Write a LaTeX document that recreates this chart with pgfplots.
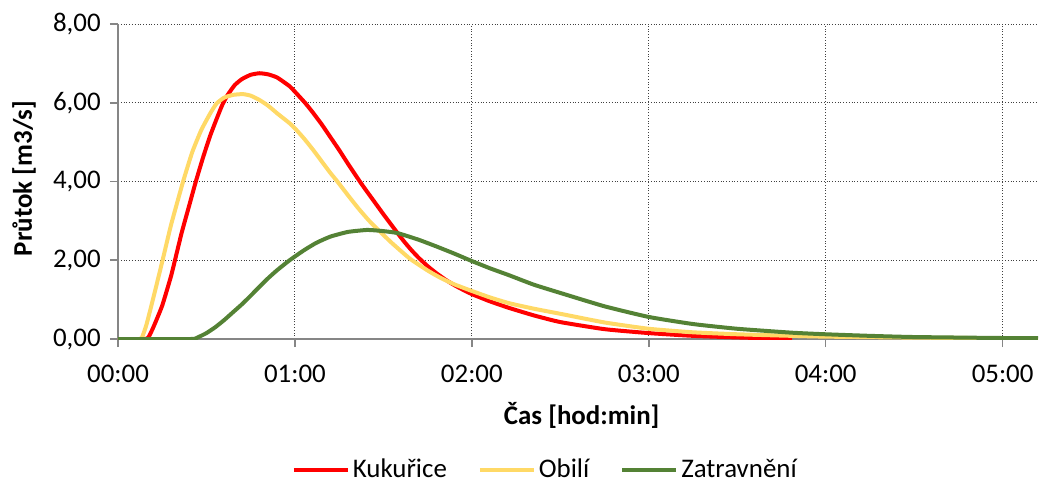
\documentclass[border=0pt]{standalone}
\usepackage{fontspec}
\setmainfont{Carlito}
\usepackage{pgfplots}
\pgfplotsset{compat=1.18}
\definecolor{kuk}{RGB}{255,0,0}
\definecolor{obi}{RGB}{255,217,102}
\definecolor{zat}{RGB}{84,130,53}
\definecolor{axgray}{RGB}{134,134,134}

\begin{document}
\fontsize{13.5}{16}\selectfont
\begin{tikzpicture}
% frame of the whole chart (1 px = 0.5 bp)
\useasboundingbox (-59bp,-72bp) rectangle (461bp,169.5bp);
\begin{axis}[
    at={(0,0)}, anchor=south west,
    scale only axis,
    width=460bp, height=157.5bp,
    xmin=0, xmax=5.2, ymin=0, ymax=8,
    axis x line=bottom, axis y line=left,
    axis line style={-, draw=axgray, line width=0.8bp},
    xtick={0,1,2,3,4,5},
    xticklabels={00:00,01:00,02:00,03:00,04:00,05:00},
    xticklabel style={yshift=-4.5bp},
    ytick={0,2,4,6,8},
    yticklabel style={/pgf/number format/.cd, use comma, fixed, fixed zerofill, precision=2, assume math mode=true},
    tick align=outside,
    major tick length=4bp,
    tick style={draw=axgray, line width=0.8bp},
    grid=major,
    major grid style={densely dotted, draw=black!75, line width=0.5bp},
    xlabel={\textbf{Čas [hod:min]}},
    ylabel={\textbf{Průtok [m3/s]}},
    xlabel style={at={(axis description cs:0.504,-0.244)}, anchor=center},
    ylabel style={at={(axis description cs:-0.102,0.51)}, anchor=center},
    legend columns=3,
    legend style={draw=none, at={(0.465,-0.416)}, anchor=center,
        nodes={inner xsep=1.5bp},
        /tikz/every even column/.append style={column sep=14bp}},
    legend image code/.code={\draw[#1, line width=2bp] (0bp,0bp) -- (27bp,0bp);},
    every axis plot/.append style={line width=2bp, line join=round, smooth, tension=0.3},
]
\addplot[kuk] coordinates {
(0,0) (0.14,0) (0.17,0.03) (0.20,0.3) (0.25,0.85) (0.30,1.6) (0.322,2.0)
(0.36,2.7) (0.40,3.35) (0.44,4.0) (0.48,4.6) (0.52,5.15) (0.56,5.62) (0.59,5.95)
(0.62,6.2) (0.66,6.45) (0.70,6.6) (0.75,6.71) (0.80,6.75) (0.85,6.72) (0.90,6.64)
(0.97,6.42) (1.00,6.28) (1.057,6.0) (1.10,5.76) (1.15,5.46) (1.20,5.13) (1.25,4.8)
(1.30,4.45) (1.367,4.0) (1.40,3.79) (1.45,3.48) (1.50,3.17) (1.58,2.69) (1.62,2.46)
(1.66,2.25) (1.70,2.06) (1.75,1.85) (1.80,1.67) (1.85,1.51) (1.90,1.37) (1.95,1.25)
(2.00,1.14) (2.10,0.96) (2.21,0.79) (2.35,0.6) (2.50,0.43) (2.75,0.25) (3.00,0.15)
(3.25,0.08) (3.50,0.04) (3.81,0.0)
};
\addlegendentry{Kukuřice}
\addplot[obi] coordinates {
(0,0) (0.12,0) (0.134,0.02) (0.16,0.35) (0.20,1.05) (0.252,2.0) (0.30,2.9)
(0.368,4.0) (0.42,4.75) (0.47,5.3) (0.52,5.72) (0.557,5.98) (0.60,6.13) (0.65,6.2)
(0.706,6.22) (0.75,6.18) (0.80,6.07) (0.85,5.92) (0.90,5.73) (0.97,5.48) (1.00,5.35)
(1.05,5.1) (1.10,4.82) (1.15,4.52) (1.20,4.22) (1.24,4.0) (1.30,3.65) (1.36,3.31)
(1.42,3.0) (1.48,2.73) (1.55,2.43) (1.65,2.04) (1.75,1.74) (1.82,1.56) (1.90,1.39)
(2.00,1.22) (2.10,1.06) (2.21,0.91) (2.35,0.77) (2.50,0.64) (2.75,0.42) (3.00,0.26)
(3.25,0.17) (3.50,0.12) (3.81,0.08) (4.00,0.06) (4.50,0.035) (5.00,0.02) (5.20,0.02)
};
\addlegendentry{Obilí}
\addplot[zat] coordinates {
(0,0) (0.41,0) (0.45,0.04) (0.50,0.15) (0.55,0.3) (0.60,0.48) (0.65,0.68)
(0.70,0.88) (0.75,1.1) (0.80,1.33) (0.85,1.55) (0.90,1.75) (0.97,2.0) (1.05,2.25)
(1.12,2.44) (1.20,2.6) (1.30,2.72) (1.41,2.77) (1.50,2.74) (1.58,2.69) (1.70,2.52)
(1.80,2.35) (1.90,2.17) (2.00,1.98) (2.10,1.8) (2.21,1.62) (2.35,1.38) (2.50,1.17)
(2.75,0.83) (3.00,0.56) (3.25,0.38) (3.50,0.26) (3.81,0.16) (4.00,0.12) (4.25,0.08)
(4.50,0.05) (5.00,0.025) (5.20,0.02)
};
\addlegendentry{Zatravnění}
\end{axis}
\end{tikzpicture}
\end{document}
